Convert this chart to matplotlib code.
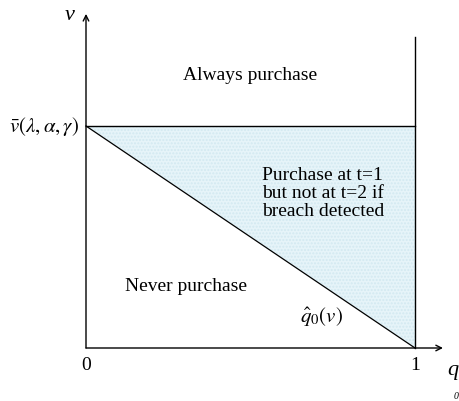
import numpy as np
import matplotlib.pyplot as plt

# diagram values (q on x, v on y; vbar normalised to 1)
q_ticks = [0, 1]
q_tick_labels = ['0', '1']
v_bar = 1.0
q_boundary = [0.0, 1.0]      # q_hat_0(v) line
v_boundary = [1.0, 0.0]
v_top = 1.40                 # top of the q=1 line
region_labels = ['Always purchase', 'Never purchase',
                 'Purchase at t=1\nbut not at t=2 if\nbreach detected']

fig = plt.figure(figsize=(4.6, 4.02), dpi=100)
ax = fig.add_axes([0, 0, 1, 1])
ax.set_xlim(-86 / 329, (460 - 86) / 329)
ax.set_ylim(-(402 - 349) / 222, 349 / 222)
ax.axis('off')

serif = 'Liberation Serif'

# shaded triangle between the boundary and vbar
ax.fill_between(q_boundary, v_boundary, [v_bar, v_bar], facecolor='#e6f4f9',
                edgecolor='#d2e9f1', hatch='.....', linewidth=0)

# axes with arrows
ax.annotate('', xy=(1.085, 0), xytext=(0, 0),
            arrowprops=dict(arrowstyle='->', lw=1.0, color='black', shrinkA=0, shrinkB=0))
ax.annotate('', xy=(0, 1.505), xytext=(0, 0),
            arrowprops=dict(arrowstyle='->', lw=1.0, color='black', shrinkA=0, shrinkB=0))

ax.plot([q_ticks[0], q_ticks[1]], [v_bar, v_bar], color='black', lw=1.0)
ax.plot([q_ticks[1], q_ticks[1]], [0, v_top], color='black', lw=1.0)
ax.plot(q_boundary, v_boundary, color='black', lw=0.9)

# labels
for q, lab in zip(q_ticks, q_tick_labels):
    ax.text(q, -0.075, lab, ha='center', va='center', fontsize=14, family=serif)
ax.text(1.115, -0.095, 'q', ha='center', va='center', fontsize=16, family=serif, style='italic')
ax.text(1.125, -0.215, '0', ha='center', va='center', fontsize=7, family=serif, style='italic')
ax.text(-0.05, 1.5, 'v', ha='center', va='center', fontsize=16, family=serif, style='italic')
ax.text(-0.02, v_bar, r'$\bar{v}(\lambda,\alpha,\gamma)$', ha='right', va='center',
        fontsize=15, math_fontfamily='stix')

ax.text(0.5, 1.23, region_labels[0], ha='center', va='center', fontsize=14, family=serif)
ax.text(0.305, 0.28, region_labels[1], ha='center', va='center', fontsize=14, family=serif)
ax.text(0.72, 0.70, region_labels[2], ha='center', va='center', fontsize=14,
        family=serif, linespacing=1.1)
ax.text(0.717, 0.14, r'$\hat{q}_0(v)$', ha='center', va='center', fontsize=15,
        math_fontfamily='stix')

fig.savefig('out.png', dpi=100)
